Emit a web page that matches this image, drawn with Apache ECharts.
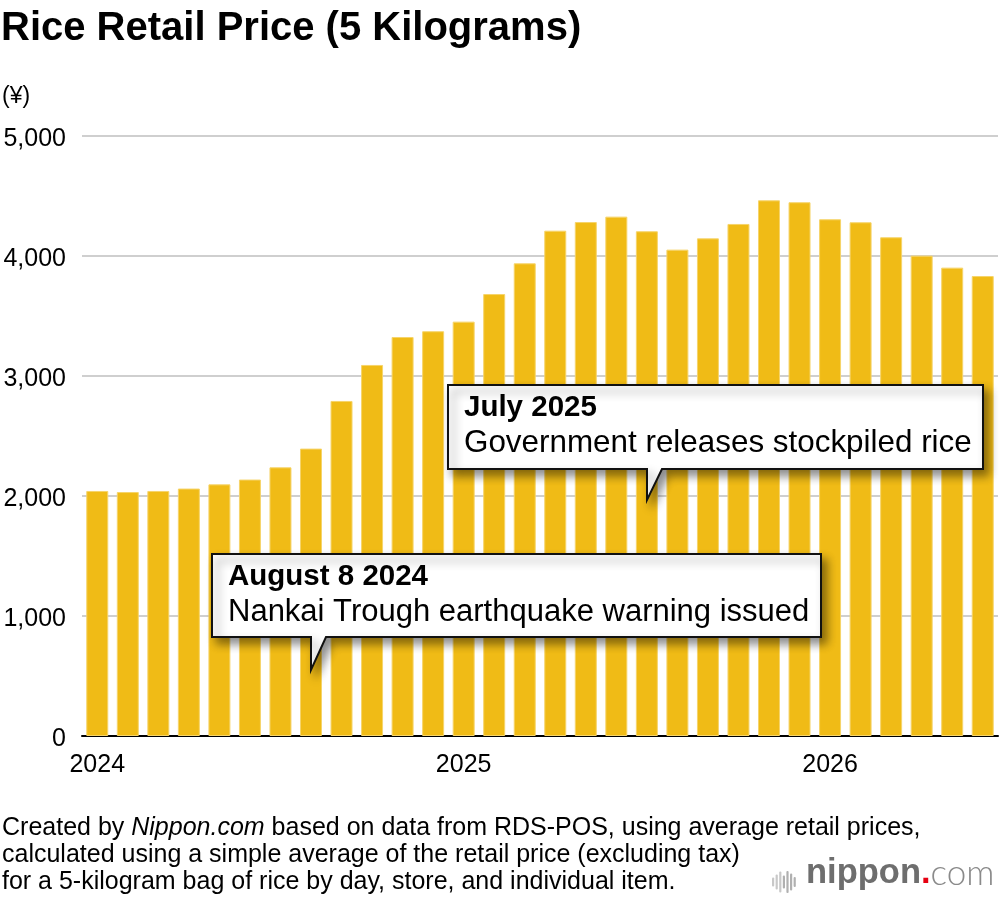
<!DOCTYPE html>
<html>
<head>
<meta charset="utf-8">
<title>Rice Retail Price (5 Kilograms)</title>
<script src="https://cdn.jsdelivr.net/npm/echarts@6/dist/echarts.min.js"></script>
<style>
  html, body { margin: 0; padding: 0; background: #fff; }
  #chart { width: 1000px; height: 904px; }
</style>
</head>
<body>
<div id="chart"></div>
<script>
// monthly average retail price, yen per 5kg bag
var months = [
    '2024-01', '2024-02', '2024-03', '2024-04', '2024-05', '2024-06',
    '2024-07', '2024-08', '2024-09', '2024-10', '2024-11', '2024-12',
    '2025-01', '2025-02', '2025-03', '2025-04', '2025-05', '2025-06',
    '2025-07', '2025-08', '2025-09', '2025-10', '2025-11', '2025-12',
    '2026-01', '2026-02', '2026-03', '2026-04', '2026-05', '2026-06'
];
var prices = [
    2042, 2033, 2042, 2062, 2097, 2137,
    2239, 2395, 2792, 3092, 3325, 3373,
    3453, 3683, 3939, 4211, 4283, 4328,
    4206, 4053, 4147, 4267, 4464, 4448,
    4306, 4281, 4156, 4003, 3903, 3833
];

// callouts
var noteMonths = ['2024-08', '2025-07'];
var noteHeads = ['August 8 2024', 'July 2025'];
var noteBodies = ['Nankai Trough earthquake warning issued', 'Government releases stockpiled rice'];

var footerLines = [
    ['Created by ', 'Nippon.com', ' based on data from RDS-POS, using average retail prices,'],
    ['calculated using a simple average of the retail price (excluding tax)'],
    ['for a 5-kilogram bag of rice by day, store, and individual item.']
];

var FONT = '"Liberation Sans", Arial, Helvetica, sans-serif';

// box geometry for each callout (left offset from the pointer tip, top, size)
var noteBoxes = [
    {dx: -99, top: 554, width: 609, height: 83, tipDrop: 33, bodySize: 31},
    {dx: -199, top: 385, width: 535, height: 84, tipDrop: 31, bodySize: 31.4}
];

var myChart = echarts.init(document.getElementById('chart'));

var footerText = footerLines.map(function (line) {
    return line.map(function (part, i) {
        return (line.length > 1 && i === 1) ? '{i|' + part + '}' : '{a|' + part + '}';
    }).join('');
}).join('\n');

var option = {
    animation: false,
    backgroundColor: '#fff',
    title: [{
        text: 'Rice Retail Price (5 Kilograms)',
        left: 1,
        top: 9,
        padding: 0,
        textStyle: {fontFamily: FONT, fontSize: 40, fontWeight: 'bold', color: '#000'}
    }, {
        text: '(¥)',
        left: 2,
        top: 85,
        padding: 0,
        textStyle: {fontFamily: FONT, fontSize: 23, fontWeight: 'normal', color: '#000'}
    }],
    grid: {
        left: 82,
        right: 2,
        top: 136,
        bottom: 168,
        containLabel: false
    },
    xAxis: {
        type: 'category',
        data: months,
        axisTick: {show: false},
        axisLine: {lineStyle: {color: '#000', width: 2}},
        axisLabel: {
            interval: function (index, value) {
                return value.slice(5) === '01';
            },
            formatter: function (value) {
                return value.slice(0, 4);
            },
            margin: 17,
            fontFamily: FONT,
            fontSize: 25,
            color: '#000'
        }
    },
    yAxis: {
        type: 'value',
        min: 0,
        max: 5000,
        interval: 1000,
        axisLine: {show: false},
        axisTick: {show: false},
        splitLine: {lineStyle: {color: '#cfcfcf', width: 2}},
        axisLabel: {
            margin: 16,
            formatter: function (v) {
                return '{v|' + v.toLocaleString('en-US') + '}';
            },
            rich: {
                v: {fontFamily: FONT, fontSize: 25, color: '#000', padding: [7, 0, 0, 0]}
            }
        }
    },
    series: [{
        type: 'bar',
        data: prices,
        barCategoryGap: '28%',
        itemStyle: {
            color: '#f0bb16',
            borderColor: '#f6d46a',
            borderWidth: 1
        }
    }]
};

myChart.setOption(option);

// callouts and footer, placed after the axes exist
var graphics = [];
noteMonths.forEach(function (m, i) {
    var box = noteBoxes[i];
    var tipX = Math.round(myChart.convertToPixel({xAxisIndex: 0}, m));
    var L = tipX + box.dx, T = box.top;
    var R = L + box.width, B = T + box.height;
    graphics.push({
        type: 'polygon',
        z: 100,
        shape: {
            points: [[L, T], [R, T], [R, B], [tipX + 15, B], [tipX, B + box.tipDrop], [tipX, B], [L, B]]
        },
        style: {
            fill: '#fff',
            stroke: '#111',
            lineWidth: 2,
            shadowBlur: 10,
            shadowOffsetX: 5,
            shadowOffsetY: 6,
            shadowColor: 'rgba(0,0,0,0.45)'
        }
    });
    graphics.push({
        type: 'text',
        z: 101,
        x: L + 16,
        y: T + 23,
        style: {
            text: noteHeads[i],
            fontFamily: FONT,
            fontSize: 29.5,
            fontWeight: 'bold',
            fill: '#000',
            verticalAlign: 'middle'
        }
    });
    graphics.push({
        type: 'text',
        z: 101,
        x: L + 16,
        y: T + 58,
        style: {
            text: noteBodies[i],
            fontFamily: FONT,
            fontSize: box.bodySize,
            fill: '#000',
            verticalAlign: 'middle'
        }
    });
});

// footer note
graphics.push({
    type: 'text',
    z: 50,
    x: 2,
    y: 815,
    style: {
        text: footerText,
        rich: {
            a: {fontFamily: FONT, fontSize: 25, lineHeight: 27, fill: '#000'},
            i: {fontFamily: FONT, fontSize: 25, lineHeight: 27, fill: '#000', fontStyle: 'italic'}
        }
    }
});

// nippon.com logo
var waveHeights = [9, 15, 21, 13, 22, 17, 10];
waveHeights.forEach(function (h, i) {
    graphics.push({
        type: 'rect',
        z: 50,
        shape: {x: 772 + i * 3.6, y: 882 - h / 2, width: 2.2, height: h, r: 1},
        style: {fill: i < 3 ? '#c8c8c8' : '#b0b0b0'}
    });
});
graphics.push({
    type: 'text',
    z: 50,
    x: 806,
    y: 891,
    style: {
        text: '{b|nippon}{r|.}{c|com}',
        verticalAlign: 'bottom',
        rich: {
            b: {fontFamily: FONT, fontSize: 34.5, fontWeight: 'bold', fill: '#6e6e6e'},
            r: {fontFamily: FONT, fontSize: 34.5, fontWeight: 'bold', fill: '#e60012'},
            c: {fontFamily: '"Lato", ' + FONT, fontSize: 35, fontWeight: 300, fill: '#8a8a8a'}
        }
    }
});

myChart.setOption({graphic: graphics});
</script>
</body>
</html>
